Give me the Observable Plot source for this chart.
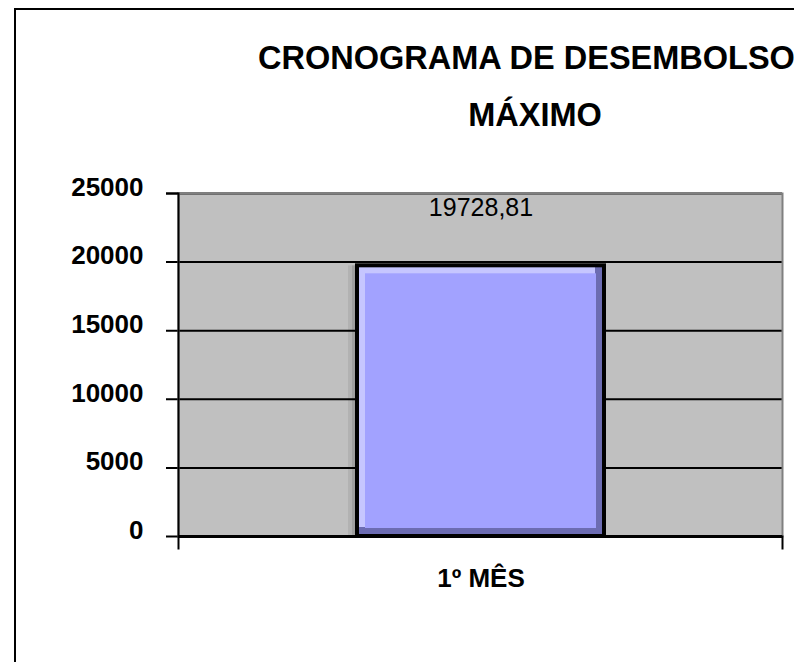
<!DOCTYPE html>
<html>
<head>
<meta charset="utf-8">
<script src="https://cdn.jsdelivr.net/npm/d3@7"></script>
<script src="https://cdn.jsdelivr.net/npm/@observablehq/plot@0.6"></script>
<style>
  html, body { margin: 0; padding: 0; background: #fff; overflow: hidden; }
  #wrap { position: relative; width: 794px; height: 662px; overflow: hidden; }
  #wrap svg { position: absolute; left: 0; top: 0; }
  #border { position: absolute; left: 14px; top: 8px; width: 1000px; height: 800px; border: 2px solid #000; pointer-events: none; }
</style>
</head>
<body>
<div id="wrap"><div id="border"></div></div>
<script>
const titleLines = ["CRONOGRAMA DE DESEMBOLSO", "MÁXIMO"];
const categories = ["1º MÊS"];
const values = [19728.81];
const yTicks = [0, 5000, 10000, 15000, 20000, 25000];

const data = categories.map((c, i) => ({cat: c, value: values[i]}));
const fmt = v => v.toFixed(2).replace(".", ",");

const W = 794, H = 662, mT = 193, mB = 126, mL = 178, mR = 12;
const plotH = H - mT - mB;

const chart = Plot.plot({
  width: W, height: H,
  marginTop: mT, marginBottom: mB, marginLeft: mL, marginRight: mR,
  style: {fontFamily: "'Liberation Sans', Arial, sans-serif", background: "transparent", overflow: "visible", color: "#000"},
  x: {domain: categories, padding: 0.42, label: null},
  y: {domain: [0, 25000], label: null},
  marks: [
    Plot.frame({fill: "#c0c0c0"}),
    Plot.gridY(yTicks, {stroke: "#000", strokeOpacity: 1, strokeWidth: 2, insetLeft: -12}),
    Plot.frame({stroke: "#808080", strokeWidth: 2}),
    Plot.gridY([25000], {stroke: "#000", strokeOpacity: 1, strokeWidth: 2, insetLeft: -12, insetRight: W - mL - mR}),
    Plot.frame({anchor: "left", stroke: "#000", strokeWidth: 2, insetBottom: -12}),
    Plot.frame({anchor: "right", stroke: "#000", strokeWidth: 2, insetTop: plotH, insetBottom: -12}),
    Plot.gridY([0], {stroke: "#000", strokeOpacity: 1, strokeWidth: 3}),
    // shadow
    Plot.barY(data, {x: "cat", y: "value", fill: "#000", fillOpacity: 0.07, dx: -9}),
    Plot.barY(data, {x: "cat", y: "value", fill: "#000", fillOpacity: 0.1, dx: -5}),
    // bevel layers
    Plot.barY(data, {x: "cat", y: "value", fill: "#6c6cb2"}),
    Plot.barY(data, {x: "cat", y: "value", fill: "#c6c6ff", insetRight: 9, insetBottom: 9}),
    Plot.barY(data, {x: "cat", y: "value", fill: "#a2a2ff", inset: 8}),
    Plot.barY(data, {x: "cat", y: "value", fill: "none", stroke: "#000", strokeWidth: 4}),
    Plot.text(data, {x: "cat", y: "value", text: d => fmt(d.value), dy: -58, fontSize: 25, fill: "#000"}),
    Plot.axisY(yTicks, {tickSize: 0, tickPadding: 35, tickFormat: "d", fontSize: 26, fontWeight: "bold", dy: -6, fill: "#000"}),
    Plot.axisX({tickSize: 0, tickPadding: 32, fontSize: 26, fontWeight: "bold", fill: "#000", label: null})
  ]
});

const wrap = document.getElementById("wrap");
wrap.insertBefore(chart, wrap.firstChild);

const overlay = d3.select(wrap).append("svg")
  .attr("width", W).attr("height", H)
  .style("font-family", "'Liberation Sans', Arial, sans-serif");
overlay.append("text").attr("x", 258).attr("y", 69)
  .attr("font-size", 32.5).attr("font-weight", "bold").attr("text-anchor", "start")
  .text(titleLines[0]);
overlay.append("text").attr("x", 535).attr("y", 126)
  .attr("font-size", 32.5).attr("font-weight", "bold").attr("text-anchor", "middle")
  .text(titleLines[1]);
</script>
</body>
</html>
